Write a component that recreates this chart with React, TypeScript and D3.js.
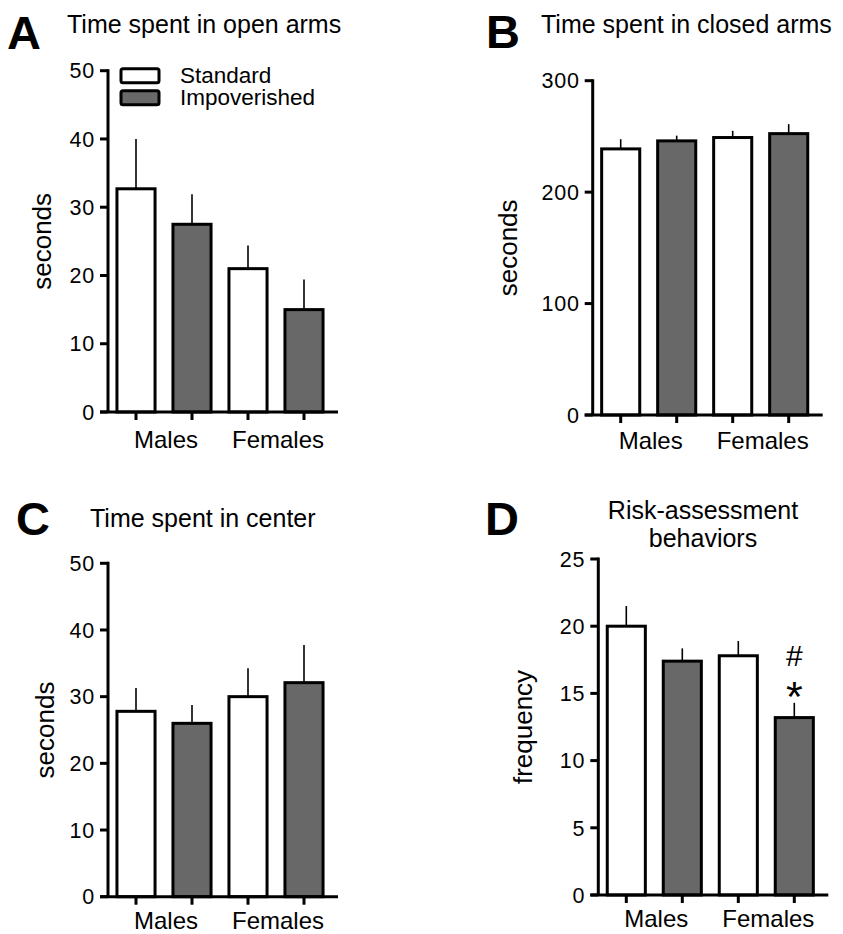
import React from "react";
import * as d3 from "d3";

// groups and series
const groups = ["Males", "Females"];
const series = ["Standard", "Impoverished"];
const seriesFill = ["#ffffff", "#686868"];

// bar order: Males-Standard, Males-Impoverished, Females-Standard, Females-Impoverished
const openMean = [32.7, 27.5, 21.0, 15.0];
const openSem = [7.3, 4.4, 3.4, 4.4];
const closedMean = [238.8, 246, 249, 252.5];
const closedSem = [8.7, 4.7, 6, 8.5];
const centerMean = [27.8, 26.0, 30.0, 32.1];
const centerSem = [3.5, 2.75, 4.25, 5.65];
const riskMean = [20.0, 17.4, 17.8, 13.2];
const riskSem = [1.5, 0.95, 1.1, 1.1];

const openTicks = [0, 10, 20, 30, 40, 50];
const closedTicks = [0, 100, 200, 300];
const centerTicks = [0, 10, 20, 30, 40, 50];
const riskTicks = [0, 5, 10, 15, 20, 25];

const font = "'Liberation Sans', Arial, Helvetica, sans-serif";

type PanelProps = {
  letter: string;
  letterX: number;
  letterY: number;
  title: string[];
  titleX: number;
  titleY: number;
  titleAnchor?: "start" | "middle";
  axisX: number;
  y0: number;
  yTop: number;
  yMax: number;
  ticks: number[];
  means: number[];
  sems: number[];
  yLabel: string;
  yLabelOffset: number;
  catOffset: number;
  legend?: boolean;
  marks?: number;
};

const Panel = (p: PanelProps) => {
  const y = d3.scaleLinear().domain([0, p.yMax]).range([p.y0, p.yTop]);
  const ids = p.means.map((_, i) => i);
  const step = 56;
  const pad = 0.32;
  const x0 = p.axisX + 28 - step * pad - (step * (1 - pad)) / 2;
  const x = d3
    .scaleBand<number>()
    .domain(ids)
    .range([x0, x0 + step * (ids.length + pad)])
    .padding(pad);
  const bw = x.bandwidth();
  const axisRight = p.axisX + 230;
  const center = (i: number) => (x(i) as number) + bw / 2;

  return (
    <g fontFamily={font}>
      <text x={p.letterX} y={p.letterY} fontSize={47} fontWeight="bold">
        {p.letter}
      </text>
      {p.title.map((t, i) => (
        <text
          key={i}
          x={p.titleX}
          y={p.titleY + i * 28}
          fontSize={25}
          textAnchor={p.titleAnchor || "start"}
        >
          {t}
        </text>
      ))}
      {/* bars */}
      {ids.map((i) => (
        <g key={i}>
          <line
            x1={center(i)}
            x2={center(i)}
            y1={y(p.means[i])}
            y2={y(p.means[i] + p.sems[i])}
            stroke="#000"
            strokeWidth={1.6}
          />
          <rect
            x={x(i)}
            y={y(p.means[i])}
            width={bw}
            height={p.y0 - y(p.means[i])}
            fill={seriesFill[i % 2]}
            stroke="#000"
            strokeWidth={3}
          />
        </g>
      ))}
      {/* y axis */}
      <line x1={p.axisX} x2={p.axisX} y1={p.yTop - 1.5} y2={p.y0} stroke="#000" strokeWidth={3} />
      {p.ticks.map((t) => (
        <g key={t}>
          <line x1={p.axisX - 8} x2={p.axisX} y1={y(t)} y2={y(t)} stroke="#000" strokeWidth={3} />
          <text
            x={p.axisX - 13}
            y={y(t)}
            dy="0.36em"
            textAnchor="end"
            fontSize={21.5}
            letterSpacing={0.8}
          >
            {t}
          </text>
        </g>
      ))}
      {/* x axis */}
      <line x1={p.axisX - 8} x2={axisRight} y1={p.y0} y2={p.y0} stroke="#000" strokeWidth={3} />
      {ids.map((i) => (
        <line
          key={i}
          x1={center(i)}
          x2={center(i)}
          y1={p.y0}
          y2={p.y0 + 8}
          stroke="#000"
          strokeWidth={3}
        />
      ))}
      {groups.map((g, gi) => (
        <text
          key={g}
          x={(center(gi * 2) + center(gi * 2 + 1)) / 2 + 2}
          y={p.y0 + p.catOffset}
          fontSize={24}
          textAnchor="middle"
        >
          {g}
        </text>
      ))}
      <text
        transform={`translate(${p.axisX - p.yLabelOffset},${(p.y0 + p.yTop) / 2}) rotate(-90)`}
        textAnchor="middle"
        dy="0.35em"
        fontSize={26}
      >
        {p.yLabel}
      </text>
      {p.legend &&
        series.map((s, si) => (
          <g key={s}>
            <rect
              x={p.axisX + 13}
              y={p.yTop - 2 + si * 22}
              width={38}
              height={14}
              rx={2}
              fill={seriesFill[si]}
              stroke="#000"
              strokeWidth={3}
            />
            <text x={p.axisX + 72} y={p.yTop + 12 + si * 22.5} fontSize={22.5}>
              {s}
            </text>
          </g>
        ))}
      {p.marks !== undefined && (
        <g textAnchor="middle">
          <text
            x={center(p.marks)}
            y={y(p.means[p.marks] + p.sems[p.marks]) - 37}
            fontSize={30}
          >
            #
          </text>
          <text
            x={center(p.marks)}
            y={y(p.means[p.marks] + p.sems[p.marks]) + 8}
            fontSize={43}
          >
            *
          </text>
        </g>
      )}
    </g>
  );
};

export default function App() {
  return (
    <svg
      width={843}
      height={934}
      style={{ position: "absolute", left: 0, top: 0, background: "#fff" }}
    >
      <rect width={843} height={934} fill="#fff" />
      <Panel
        letter="A"
        letterX={7}
        letterY={49}
        title={["Time spent in open arms"]}
        titleX={67}
        titleY={33}
        axisX={108}
        y0={412}
        yTop={70.7}
        yMax={50}
        ticks={openTicks}
        means={openMean}
        sems={openSem}
        yLabel="seconds"
        yLabelOffset={66}
        catOffset={36}
        legend
      />
      <Panel
        letter="B"
        letterX={486}
        letterY={48}
        title={["Time spent in closed arms"]}
        titleX={541}
        titleY={33}
        axisX={592.7}
        y0={415}
        yTop={80.7}
        yMax={300}
        ticks={closedTicks}
        means={closedMean}
        sems={closedSem}
        yLabel="seconds"
        yLabelOffset={85}
        catOffset={34}
      />
      <Panel
        letter="C"
        letterX={16}
        letterY={535}
        title={["Time spent in center"]}
        titleX={90}
        titleY={527}
        axisX={108}
        y0={896.7}
        yTop={563.3}
        yMax={50}
        ticks={centerTicks}
        means={centerMean}
        sems={centerSem}
        yLabel="seconds"
        yLabelOffset={63}
        catOffset={32}
      />
      <Panel
        letter="D"
        letterX={485}
        letterY={535}
        title={["Risk-assessment", "behaviors"]}
        titleX={703}
        titleY={519}
        titleAnchor="middle"
        axisX={598.3}
        y0={895}
        yTop={559}
        yMax={25}
        ticks={riskTicks}
        means={riskMean}
        sems={riskSem}
        yLabel="frequency"
        yLabelOffset={75}
        catOffset={32}
        marks={3}
      />
    </svg>
  );
}
